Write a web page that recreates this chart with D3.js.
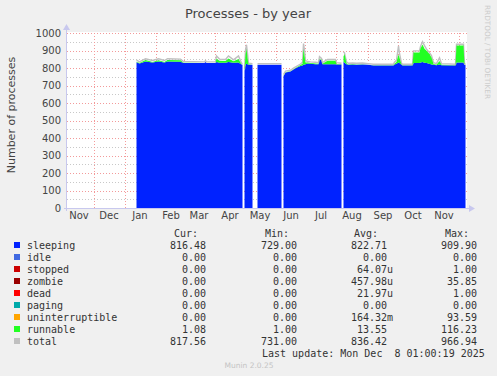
<!DOCTYPE html>
<html>
<head>
<meta charset="utf-8">
<script src="https://cdn.jsdelivr.net/npm/d3@7"></script>
<style>
  html, body { margin: 0; padding: 0; background: #f0f0f0; }
  svg { display: block; }
</style>
</head>
<body>
<svg id="chart"></svg>
<script>
// Daily samples (null = no data)
const dates = [
  "2025-01-13","2025-01-16","2025-01-22","2025-01-29","2025-02-04","2025-02-10","2025-02-13","2025-02-26",
  "2025-03-01","2025-03-22","2025-03-23","2025-03-24","2025-04-02","2025-04-03","2025-04-06","2025-04-12",
  "2025-04-15","2025-04-20","2025-04-25","2025-04-28","2025-04-29","2025-04-30",
  "2025-05-01","2025-05-02","2025-05-03","2025-05-04","2025-05-05","2025-05-09","2025-05-11",
  "2025-05-14","2025-06-07","2025-06-08",
  "2025-06-09","2025-06-11","2025-06-16","2025-06-19","2025-06-23","2025-06-26","2025-06-28","2025-06-29",
  "2025-06-30","2025-07-01","2025-07-03","2025-07-06","2025-07-11","2025-07-14","2025-07-15","2025-07-17",
  "2025-07-18","2025-07-23","2025-07-31","2025-08-01","2025-08-06","2025-08-07",
  "2025-08-08","2025-08-09","2025-08-11","2025-08-13","2025-08-17","2025-08-21","2025-08-27","2025-09-02",
  "2025-09-07","2025-09-27","2025-09-28","2025-09-30","2025-10-02","2025-10-03","2025-10-05","2025-10-06",
  "2025-10-16","2025-10-17","2025-10-23","2025-10-24","2025-10-26","2025-10-28","2025-10-30","2025-11-02",
  "2025-11-04","2025-11-06","2025-11-09","2025-11-12","2025-11-14","2025-11-28","2025-11-29","2025-12-06",
  "2025-12-07","2025-12-08"
];
const sleeping = [
  833, 826, 837, 832, 837, 832, 837, 836,
  828, 828, 834, 828, 828, 835, 830, 830,
  835, 830, 832, 820, 818, null,
  785, 820, 825, 822, 818, 818, null,
  818, 818, null,
  755, 775, 780, 792, 805, 812, 815, 818,
  820, 822, 826, 825, 822, 822, 848, 845,
  822, 822, 822, 820, 820, null,
  836, 830, 822, 818, 820, 818, 820, 818,
  815, 815, 820, 825, 832, 828, 818, 815,
  815, 828, 828, 832, 835, 830, 828, 825,
  820, 818, 816, 820, 816, 815, 832, 832,
  818, 816.5
];
const runnable = [
  3, 2, 9, 3, 8, 3, 9, 8,
  2, 1, 1, 1, 1, 18, 12, 10,
  20, 8, 20, 2, 1, null,
  2, 55, 85, 35, 3, 1, null,
  1, 1, null,
  1, 1, 1, 1, 2, 5, 10, 90,
  50, 10, 5, 3, 4, 2, 3, 2,
  2, 20, 20, 3, 1, null,
  30, 50, 5, 2, 3, 2, 2, 1,
  1, 1, 5, 10, 45, 30, 3, 1,
  1, 60, 60, 80, 100, 80, 70, 55,
  40, 5, 2, 20, 2, 1, 97, 97,
  1, 1
];
const total = [
  842, 832, 850, 840, 850, 840, 850, 848,
  834, 832, 839, 832, 832, 866, 848, 846,
  866, 844, 866, 826, 822, null,
  790, 900, 930, 880, 825, 822, null,
  822, 822, null,
  759, 779, 784, 796, 810, 820, 830, 937,
  900, 840, 834, 832, 830, 828, 862, 852,
  828, 846, 846, 828, 824, null,
  889, 884, 832, 824, 826, 824, 826, 822,
  819, 819, 830, 842, 924, 880, 825, 819,
  819, 895, 895, 920, 948, 925, 905, 885,
  868, 828, 822, 856, 822, 819, 933, 933,
  823, 817.6
];

const yTicks = d3.range(0, 1001, 100);
const yMinor = d3.range(50, 1000, 100);

const legendNames = ["sleeping","idle","stopped","zombie","dead","paging","uninterruptible","runnable","total"];
const legendColors = ["#0022ff","#4169e1","#cc0000","#990000","#ff0000","#00aaaa","#ffa500","#22ff22","#c0c0c0"];
const curValues = ["816.48","0.00","0.00","0.00","0.00","0.00","0.00","1.08","817.56"];
const minValues = ["729.00","0.00","0.00","0.00","0.00","0.00","0.00","1.00","731.00"];
const avgValues = ["822.71","0.00","64.07u","457.98u","21.97u","0.00","164.32m","13.55","836.42"];
const maxValues = ["909.90","0.00","1.00","35.85","1.00","0.00","93.59","116.23","966.94"];

const width = 497, height = 376;
const plotLeft = 67, plotRight = 467, plotTop = 33, plotBottom = 208;
const textColor = "#444";

const svg = d3.select("#chart")
    .attr("width", width)
    .attr("height", height)
    .style("font-family", "'DejaVu Sans', sans-serif");

svg.append("rect").attr("width", width).attr("height", height).attr("fill", "#f0f0f0");

// 400 days shown, one pixel per day
const x = d3.scaleTime()
    .domain([new Date(2024, 10, 4, 12), new Date(2025, 11, 9, 12)])
    .range([plotLeft, plotRight]);
const y = d3.scaleLinear().domain([0, 1000]).range([plotBottom, plotTop]);

// white canvas
svg.append("rect")
    .attr("x", plotLeft).attr("y", plotTop - 1)
    .attr("width", plotRight - plotLeft).attr("height", plotBottom - plotTop + 1)
    .attr("fill", "#fff");

const grid = svg.append("g");
// minor horizontal grid
grid.selectAll(".minor").data(yMinor).enter().append("line")
    .attr("x1", plotLeft).attr("x2", plotRight)
    .attr("y1", d => Math.round(y(d)) + 0.5).attr("y2", d => Math.round(y(d)) + 0.5)
    .attr("stroke", "#c8c8c8").attr("stroke-dasharray", "1,2");
// major horizontal grid
grid.selectAll(".major").data(yTicks.filter(d => d > 0)).enter().append("line")
    .attr("x1", plotLeft).attr("x2", plotRight)
    .attr("y1", d => Math.round(y(d)) + 0.5).attr("y2", d => Math.round(y(d)) + 0.5)
    .attr("stroke", "#f39a9a").attr("stroke-dasharray", "1,2");
// month grid
const monthStarts = d3.timeMonth.range(x.domain()[0], x.domain()[1]);
grid.selectAll(".month").data(monthStarts).enter().append("line")
    .attr("x1", d => Math.round(x(d)) + 0.5).attr("x2", d => Math.round(x(d)) + 0.5)
    .attr("y1", plotTop).attr("y2", plotBottom)
    .attr("stroke", "#f39a9a").attr("stroke-dasharray", "1,2");

// data
const rows = dates.map((d, i) => ({
    date: d3.timeParse("%Y-%m-%d")(d),
    s: sleeping[i], r: runnable[i], t: total[i]
}));
const defined = d => d.s !== null;

svg.append("path").datum(rows)
    .attr("d", d3.area().defined(defined)
        .x(d => x(d.date)).y0(y(0)).y1(d => y(d.s)))
    .attr("fill", "#0022ff");
svg.append("path").datum(rows)
    .attr("d", d3.line().defined(defined)
        .x(d => x(d.date)).y(d => y(d.t) - 0.5))
    .attr("fill", "none").attr("stroke", "#c0c0c0").attr("stroke-width", 1.4);
svg.append("path").datum(rows)
    .attr("d", d3.area().defined(defined)
        .x(d => x(d.date)).y0(d => y(d.s)).y1(d => y(d.s + d.r)))
    .attr("fill", "#22ff22");

// axes
const axisColor = "#c8c8ee";
svg.append("line").attr("x1", plotLeft - 0.5).attr("x2", plotLeft - 0.5)
    .attr("y1", plotBottom + 3).attr("y2", plotTop - 5).attr("stroke", axisColor);
svg.append("path").attr("d", `M${plotLeft - 4},${plotTop - 3} L${plotLeft - 0.5},${plotTop - 9} L${plotLeft + 3},${plotTop - 3} Z`)
    .attr("fill", axisColor);
svg.append("line").attr("x1", plotLeft - 3).attr("x2", plotRight + 4)
    .attr("y1", plotBottom + 0.5).attr("y2", plotBottom + 0.5).attr("stroke", axisColor);
svg.append("path").attr("d", `M${plotRight + 2},${plotBottom - 3} L${plotRight + 8},${plotBottom + 0.5} L${plotRight + 2},${plotBottom + 4} Z`)
    .attr("fill", axisColor);

// y tick labels
svg.append("g").selectAll("text").data(yTicks).enter().append("text")
    .attr("x", 61).attr("y", d => y(d) + 3.5)
    .attr("text-anchor", "end")
    .attr("font-size", 10).attr("fill", textColor)
    .text(d => d);

// x month labels, centred in each month (only those inside the plot)
const labelPos = d => x(d3.timeHour.offset(d, 372));
const labelMonths = d3.timeMonth.range(new Date(2024, 10, 1), x.domain()[1])
    .filter(d => labelPos(d) >= plotLeft && labelPos(d) <= plotRight);
svg.append("g").selectAll("text").data(labelMonths).enter().append("text")
    .attr("x", labelPos)
    .attr("y", 219)
    .attr("text-anchor", "middle")
    .attr("font-size", 10).attr("fill", textColor)
    .text(d => d3.timeFormat("%b")(d));

// title and labels
svg.append("text").attr("x", 248).attr("y", 18)
    .attr("text-anchor", "middle").attr("font-size", 13).attr("fill", textColor)
    .text("Processes - by year");
svg.append("text").attr("transform", "translate(15,115) rotate(-90)")
    .attr("text-anchor", "middle").attr("font-size", 11).attr("fill", textColor)
    .text("Number of processes");
svg.append("text").attr("transform", "translate(485,5) rotate(90)")
    .attr("font-size", 7.3).attr("fill", "#cccccc")
    .text("RRDTOOL / TOBI OETIKER");

// legend
const mono = "'DejaVu Sans Mono', monospace";
const legend = svg.append("g").style("font-family", mono).attr("font-size", 10).attr("fill", "#333");
const colEnds = [206, 297, 387, 477];
[["Cur:", 198], ["Min:", 289], ["Avg:", 378], ["Max:", 469]].forEach(([h, xe]) => {
    legend.append("text").attr("x", xe).attr("y", 237).attr("text-anchor", "end").text(h);
});
const splitUnit = v => /[um]$/.test(v) ? [v.slice(0, -1), v.slice(-1)] : [v, ""];
legendNames.forEach((name, i) => {
    const yy = 249 + i * 12;
    legend.append("rect").attr("x", 14).attr("y", yy - 7).attr("width", 6).attr("height", 6)
        .attr("fill", legendColors[i]);
    legend.append("text").attr("x", 27).attr("y", yy).text(name);
    [curValues, minValues, avgValues, maxValues].forEach((col, c) => {
        const [num, unit] = splitUnit(col[i]);
        legend.append("text").attr("x", colEnds[c]).attr("y", yy).attr("text-anchor", "end").text(num);
        if (unit) legend.append("text").attr("x", colEnds[c]).attr("y", yy).text(unit);
    });
});
legend.append("text").attr("x", 262).attr("y", 357)
    .attr("xml:space", "preserve").style("white-space", "pre")
    .text("Last update: Mon Dec  8 01:00:19 2025");

svg.append("text").attr("x", 249).attr("y", 368)
    .attr("text-anchor", "middle").attr("font-size", 7.5).attr("fill", "#c4c4c4")
    .text("Munin 2.0.25");
</script>
</body>
</html>
